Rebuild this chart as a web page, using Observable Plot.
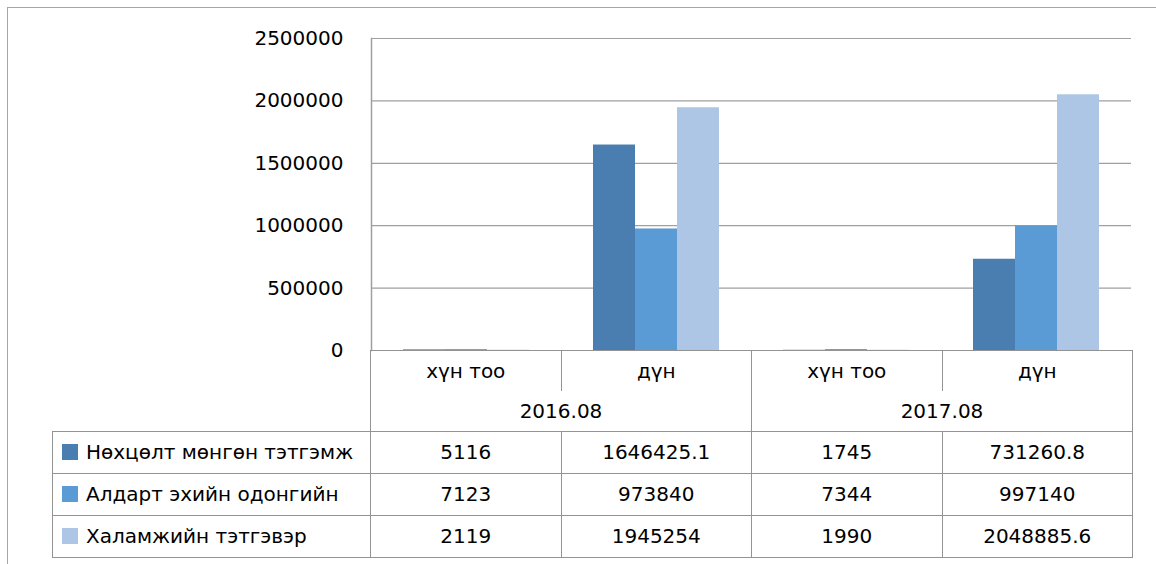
<!DOCTYPE html>
<html>
<head>
<meta charset="utf-8">
<script src="https://cdn.jsdelivr.net/npm/d3@7"></script>
<script src="https://cdn.jsdelivr.net/npm/@observablehq/plot@0.6"></script>
<style>
  html, body { margin: 0; padding: 0; background: #fff; }
  #wrap { position: relative; width: 1156px; height: 564px; overflow: hidden; font-family: "DejaVu Sans", sans-serif; color: #000; }
  #frame { position: absolute; left: 7px; top: 7px; width: 1200px; height: 600px; border-left: 1.5px solid #a6a6a6; border-top: 1.5px solid #a6a6a6; }
  #chart { position: absolute; left: 0; top: 0; }
  #tbl { position: absolute; left: 52px; top: 349.5px; border-collapse: collapse; table-layout: fixed; font-size: 20px; }
  #tbl td { padding: 0; text-align: center; vertical-align: middle; white-space: nowrap; overflow: hidden; }
  #tbl td.b { border: 1.5px solid #939393; }
  #tbl tr.h1 td.b { border-bottom: none; }
  #tbl tr.h2 td.b { border-top: none; }
  #tbl td.leg { text-align: left; padding-left: 9px; }
  .sw { display: inline-block; width: 16px; height: 16px; margin-right: 8px; vertical-align: -1px; }
</style>
</head>
<body>
<div id="wrap">
  <div id="frame"></div>
  <div id="chart"></div>
  <table id="tbl"></table>
</div>
<script>
const periods = ["2016.08", "2017.08"];
const measures = ["хүн тоо", "дүн"];
const series = ["Нөхцөлт мөнгөн тэтгэмж", "Алдарт эхийн одонгийн", "Халамжийн тэтгэвэр"];
const valuesNohtsolt = [5116, 1646425.1, 1745, 731260.8];
const valuesAldart = [7123, 973840, 7344, 997140];
const valuesHalamj = [2119, 1945254, 1990, 2048885.6];
const yTicks = [0, 500000, 1000000, 1500000, 2000000, 2500000];
const colors = ["#4a7eb0", "#5b9bd5", "#adc6e6"];

const values = [valuesNohtsolt, valuesAldart, valuesHalamj];
const columns = periods.flatMap(p => measures.map(m => `${p} ${m}`));
const rows = series.flatMap((s, i) => columns.map((c, j) => ({series: s, col: c, value: values[i][j]})));

const chart = Plot.plot({
  width: 1156,
  height: 351,
  marginTop: 38,
  marginBottom: 1,
  marginLeft: 370,
  marginRight: 24,
  style: {fontFamily: "DejaVu Sans", fontSize: "20px", background: "transparent", overflow: "visible", color: "#000"},
  fx: {domain: columns, padding: 0, axis: null},
  x: {domain: series, paddingInner: 0, paddingOuter: 0.75, axis: null},
  y: {domain: [0, 2500000]},
  color: {domain: series, range: colors},
  marks: [
    Plot.gridY(yTicks, {stroke: "#a0a0a0", strokeOpacity: 1, strokeWidth: 1.2}),
    Plot.barY(rows, {fx: "col", x: "series", y: "value", fill: "series"}),
    Plot.frame({anchor: "left", facetAnchor: "left", stroke: "#a0a0a0", strokeWidth: 1.5}),
    Plot.axisY({ticks: yTicks, tickSize: 0, tickPadding: 28, tickFormat: d3.format("d"), fontSize: 20, fill: "#000", label: null})
  ]
});
document.getElementById("chart").appendChild(chart);

// data table below the plot
const tbl = document.getElementById("tbl");
const colg = document.createElement("colgroup");
[318, 190.5, 190.5, 190.5, 190.5].forEach(w => {
  const c = document.createElement("col");
  c.style.width = w + "px";
  colg.appendChild(c);
});
tbl.appendChild(colg);

const h1 = document.createElement("tr");
h1.className = "h1";
h1.style.height = "41px";
h1.appendChild(document.createElement("td"));
periods.forEach(() => measures.forEach(m => {
  const td = document.createElement("td");
  td.className = "b";
  td.textContent = m;
  h1.appendChild(td);
}));
tbl.appendChild(h1);

const h2 = document.createElement("tr");
h2.className = "h2";
h2.style.height = "40px";
h2.appendChild(document.createElement("td"));
periods.forEach(p => {
  const td = document.createElement("td");
  td.className = "b";
  td.colSpan = measures.length;
  td.textContent = p;
  h2.appendChild(td);
});
tbl.appendChild(h2);

series.forEach((s, i) => {
  const tr = document.createElement("tr");
  tr.style.height = "42px";
  const lg = document.createElement("td");
  lg.className = "b leg";
  const sw = document.createElement("span");
  sw.className = "sw";
  sw.style.background = colors[i];
  lg.appendChild(sw);
  lg.appendChild(document.createTextNode(s));
  tr.appendChild(lg);
  values[i].forEach(v => {
    const td = document.createElement("td");
    td.className = "b";
    td.textContent = String(v);
    tr.appendChild(td);
  });
  tbl.appendChild(tr);
});
</script>
</body>
</html>
